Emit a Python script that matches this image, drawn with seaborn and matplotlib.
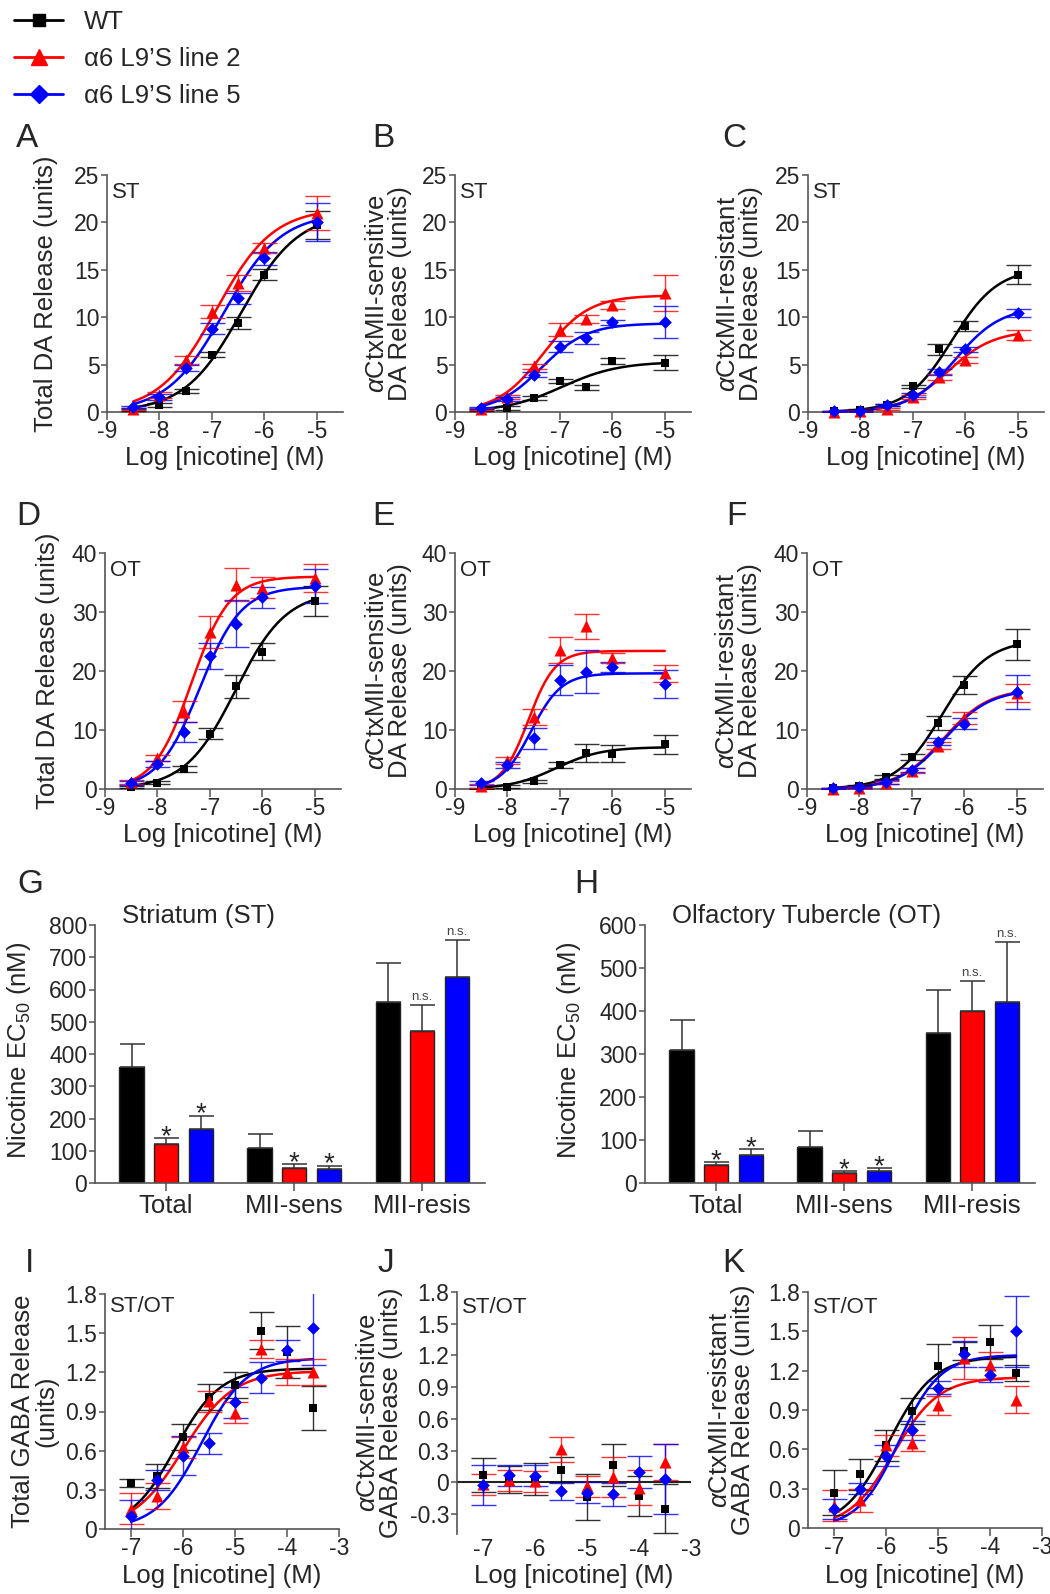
import numpy as np
import pandas as pd
import matplotlib
matplotlib.use('Agg')
import matplotlib.pyplot as plt
import seaborn as sns
from matplotlib.lines import Line2D

# ---- data ----
GROUPS = ['WT', 'α6 L9’S line 2', 'α6 L9’S line 5']
COLORS = ['black', '#ff0000', '#0000ff']
MARKERS = ['s', '^', 'D']
SIZES = [32, 75, 42]

# DA release, log [nicotine] (M)
da_x = [-8.5, -8, -7.5, -7, -6.5, -6, -5]

# A  ST total
a_mean = [[0.2, 0.7, 2.2, 6.05, 9.4, 14.5, 19.7],
          [0.3, 1.8, 5.5, 10.6, 13.6, 17.3, 21.0],
          [0.5, 1.6, 4.65, 8.8, 12.0, 16.2, 20.0]]
a_err = [[0.1, 0.2, 0.2, 0.3, 0.6, 0.6, 1.5],
         [0.1, 0.3, 0.4, 0.7, 0.8, 0.5, 1.8],
         [0.1, 0.3, 0.3, 0.6, 0.6, 0.7, 2.0]]
a_top = [21.0, 21.5, 21.0]
a_logec = [-6.44, -6.92, -6.77]
a_hill = [0.8, 0.8, 0.8]

# B  ST aCtxMII-sensitive
b_mean = [[0.2, 0.4, 1.5, 3.3, 2.6, 5.35, 5.2],
          [0.3, 1.6, 4.8, 8.7, 9.8, 11.3, 12.6],
          [0.4, 1.4, 3.95, 6.9, 7.8, 9.45, 9.5]]
b_err = [[0.1, 0.2, 0.2, 0.2, 0.3, 0.3, 0.8],
         [0.1, 0.2, 0.3, 0.7, 0.4, 0.4, 1.9],
         [0.1, 0.2, 0.3, 0.6, 0.6, 0.3, 1.7]]
b_top = [5.3, 12.3, 9.35]
b_logec = [-6.96, -7.32, -7.35]
b_hill = [0.8, 1.0, 1.0]

# C  ST aCtxMII-resistant
c_mean = [[0.1, 0.2, 0.7, 2.7, 6.6, 9.05, 14.5],
          [0.05, 0.1, 0.35, 1.6, 3.7, 5.5, 8.1],
          [0.1, 0.15, 0.7, 1.8, 4.25, 6.6, 10.45]]
c_err = [[0.05, 0.1, 0.1, 0.2, 0.6, 0.5, 1.0],
         [0.05, 0.1, 0.1, 0.2, 0.3, 0.3, 0.5],
         [0.05, 0.1, 0.1, 0.2, 0.3, 0.3, 0.4]]
c_top = [15.2, 8.6, 11.1]
c_logec = [-6.25, -6.33, -6.19]
c_hill = [1.0, 1.0, 1.0]

# D  OT total
d_mean = [[0.3, 1.1, 3.4, 9.4, 17.4, 23.3, 31.9],
          [1.2, 5.2, 13.1, 26.6, 34.6, 34.1, 35.8],
          [1.0, 4.2, 9.6, 22.5, 28.0, 32.5, 34.4]]
d_err = [[0.2, 0.3, 0.5, 1.0, 2.0, 1.5, 2.5],
         [0.3, 0.5, 1.8, 2.7, 2.8, 1.8, 2.4],
         [0.3, 0.5, 1.7, 2.2, 4.0, 1.8, 2.9]]
d_top = [33.5, 36.0, 34.3]
d_logec = [-6.51, -7.35, -7.19]
d_hill = [0.9, 1.2, 1.1]

# E  OT aCtxMII-sensitive
e_mean = [[0.1, 0.4, 1.3, 4.1, 6.1, 6.0, 7.55],
          [0.5, 4.8, 12.2, 23.5, 27.6, 22.2, 19.6],
          [1.0, 4.1, 8.6, 18.5, 19.9, 20.7, 17.8]]
e_err = [[0.1, 0.2, 0.3, 0.5, 1.6, 1.5, 1.6],
         [0.3, 0.6, 1.4, 2.2, 2.1, 0.8, 1.4],
         [0.3, 0.5, 1.8, 2.5, 3.6, 0.8, 2.3]]
e_top = [7.1, 23.4, 19.6]
e_logec = [-7.07, -7.6, -7.55]
e_hill = [1.0, 1.7, 1.5]

# F  OT aCtxMII-resistant
f_mean = [[0.1, 0.5, 2.0, 5.45, 11.2, 17.6, 24.5],
          [0.05, 0.2, 1.1, 3.1, 7.3, 12.1, 16.3],
          [0.1, 0.3, 1.2, 3.2, 8.0, 11.1, 16.5]]
f_err = [[0.1, 0.2, 0.3, 0.5, 1.2, 1.5, 2.6],
         [0.1, 0.2, 0.3, 0.4, 0.6, 1.0, 1.5],
         [0.1, 0.2, 0.3, 0.4, 0.6, 1.0, 2.9]]
f_top = [25.3, 17.0, 16.9]
f_logec = [-6.42, -6.4, -6.38]
f_hill = [1.0, 1.0, 1.0]

# G/H  nicotine EC50 (nM)
ec50_cats = ['Total', 'MII-sens', 'MII-resis']
st_ec50 = [[360, 110, 560], [120, 47, 470], [168, 44, 640]]
st_sem = [[70, 42, 122], [20, 12, 82], [41, 10, 113]]
ot_ec50 = [[310, 83, 350], [43, 24, 400], [64, 28, 420]]
ot_sem = [[70, 37, 100], [6, 4, 70], [14, 7, 140]]
ec50_marks = [['*', '*', 'n.s.'], ['*', '*', 'n.s.']]

# GABA release
gaba_x = [-7, -6.5, -6, -5.5, -5, -4.5, -4, -3.5]

# I  total GABA
i_mean = [[0.35, 0.405, 0.705, 1.01, 1.10, 1.52, 1.355, 0.925],
          [0.155, 0.25, 0.625, 0.98, 0.89, 1.38, 1.205, 1.2],
          [0.10, 0.375, 0.56, 0.655, 0.97, 1.16, 1.37, 1.54]]
i_err = [[0.03, 0.09, 0.1, 0.1, 0.1, 0.14, 0.2, 0.17],
         [0.12, 0.1, 0.08, 0.08, 0.08, 0.07, 0.1, 0.1],
         [0.12, 0.08, 0.15, 0.08, 0.12, 0.12, 0.08, 0.28]]
i_top = [1.23, 1.21, 1.31]
i_logec = [-6.15, -6.0, -5.65]
i_hill = [1.0, 0.9, 1.0]

# J  aCtxMII-sensitive GABA (no fit)
j_mean = [[0.07, 0.025, 0.03, 0.12, -0.14, 0.16, -0.13, -0.25],
          [-0.02, 0.02, 0.01, 0.31, -0.04, 0.05, -0.05, 0.19],
          [-0.03, 0.065, 0.06, -0.085, -0.1, -0.115, 0.1, 0.03]]
j_err = [[0.16, 0.13, 0.15, 0.12, 0.22, 0.2, 0.19, 0.23],
         [0.1, 0.1, 0.1, 0.12, 0.1, 0.19, 0.17, 0.17],
         [0.19, 0.1, 0.1, 0.08, 0.1, 0.11, 0.15, 0.33]]

# K  aCtxMII-resistant GABA
k_mean = [[0.27, 0.41, 0.63, 0.89, 1.235, 1.35, 1.42, 1.18],
          [0.17, 0.21, 0.63, 0.65, 0.935, 1.3, 1.24, 0.98],
          [0.145, 0.3, 0.55, 0.745, 1.07, 1.33, 1.17, 1.5]]
k_err = [[0.17, 0.12, 0.12, 0.1, 0.17, 0.07, 0.13, 0.06],
         [0.12, 0.09, 0.08, 0.06, 0.07, 0.16, 0.1, 0.1],
         [0.08, 0.04, 0.08, 0.07, 0.05, 0.1, 0.06, 0.27]]
k_top = [1.31, 1.15, 1.32]
k_logec = [-5.95, -5.85, -5.75]
k_hill = [1.0, 1.0, 1.1]

# ---- style ----
sns.set_theme(style='ticks')
plt.rcParams['font.family'] = ['Liberation Sans', 'DejaVu Sans']
plt.rcParams['mathtext.fontset'] = 'custom'
plt.rcParams['mathtext.rm'] = 'Liberation Sans'
plt.rcParams['mathtext.it'] = 'Liberation Sans:italic'
plt.rcParams['axes.unicode_minus'] = False
SPINE = '#555555'
TICK = 16.5
LABEL = 18.5
LETTER = 24

W, H = 1050, 1594
fig = plt.figure(figsize=(W / 100, H / 100), dpi=100)


def add_ax(left, top, right, bottom):
    return fig.add_axes([left / W, 1 - bottom / H, (right - left) / W, (bottom - top) / H])


def hill(x, top, logec, n):
    return top / (1 + 10 ** ((logec - x) * n))


def style_axes(ax, xlim, xticks, ylim, yticks, yfmt=str):
    sns.despine(ax=ax)
    for s in ['left', 'bottom']:
        ax.spines[s].set_color(SPINE)
        ax.spines[s].set_linewidth(1.2)
    ax.set_xlim(xlim)
    ax.set_ylim(ylim)
    ax.set_xticks(xticks)
    ax.set_xticklabels([str(t) for t in xticks])
    ax.set_yticks(yticks)
    ax.set_yticklabels([yfmt(t) for t in yticks])
    ax.tick_params(axis='x', length=6, width=1.1, color=SPINE, pad=0, labelsize=TICK)
    ax.tick_params(axis='y', length=4, width=1.1, color=SPINE, pad=1.5, labelsize=TICK)


def set_labels(ax, xlabel, ylabel, xlab_top, ylab_right):
    ax.set_xlabel(xlabel, fontsize=LABEL)
    ax.set_ylabel(ylabel, fontsize=LABEL, linespacing=0.95)
    pos = ax.get_position()
    ax.xaxis.set_label_coords(pos.x0 + pos.width / 2, 1 - xlab_top / H, transform=fig.transFigure)
    ax.yaxis.set_label_coords(ylab_right / W, pos.y0 + pos.height / 2, transform=fig.transFigure)


def dose_panel(ax, x, means, errs, fit=None):
    if fit is not None:
        tops, logecs, hills = fit
        for i in range(3):
            fx = np.linspace(x[0], x[-1], 200)
            sns.lineplot(x=fx, y=hill(fx, tops[i], logecs[i], hills[i]), color=COLORS[i],
                         lw=1.8, ax=ax, zorder=2)
    for i in range(3):
        ax.errorbar(x, means[i], yerr=errs[i], fmt='none', ecolor=COLORS[i], elinewidth=1.0,
                    capsize=9, capthick=1.0, alpha=0.8, zorder=3)
        sns.scatterplot(x=x, y=means[i], color=COLORS[i], marker=MARKERS[i], s=SIZES[i],
                        linewidth=0, ax=ax, clip_on=False, zorder=4)


def note(ax, text, dy):
    ax.annotate(text, xy=(0, 1), xycoords='axes fraction', xytext=(5, -dy),
                textcoords='offset pixels', fontsize=16, va='baseline', ha='left')


def letter(x, y, s):
    fig.text(x / W, 1 - y / H, s, fontsize=LETTER, va='baseline', ha='left')


# ---- rows 1 and 2: DA release ----
da_panels = [
    ('A', (107, 175, 343, 412), a_mean, a_err, (a_top, a_logec, a_hill), 25, 5, 'ST',
     'Total DA Release (units)', 58, 446, (16, 147)),
    ('B', (455, 175, 691, 412), b_mean, b_err, (b_top, b_logec, b_hill), 25, 5, 'ST',
     '$\\alpha$CtxMII-sensitive\nDA Release (units)', 412, 446, (372, 147)),
    ('C', (808, 175, 1044, 412), c_mean, c_err, (c_top, c_logec, c_hill), 25, 5, 'ST',
     '$\\alpha$CtxMII-resistant\nDA Release (units)', 763, 446, (722, 147)),
    ('D', (105, 553, 341, 789), d_mean, d_err, (d_top, d_logec, d_hill), 40, 10, 'OT',
     'Total DA Release (units)', 60, 823, (16, 525)),
    ('E', (455, 553, 691, 789), e_mean, e_err, (e_top, e_logec, e_hill), 40, 10, 'OT',
     '$\\alpha$CtxMII-sensitive\nDA Release (units)', 412, 823, (372, 525)),
    ('F', (807, 553, 1043, 789), f_mean, f_err, (f_top, f_logec, f_hill), 40, 10, 'OT',
     '$\\alpha$CtxMII-resistant\nDA Release (units)', 762, 823, (726, 525)),
]
for name, box, means, errs, fit, ymax, ystep, region, ylab, ylab_r, xlab_t, lpos in da_panels:
    ax = add_ax(*box)
    dose_panel(ax, da_x, means, errs, fit)
    style_axes(ax, (-9, -4.5), [-9, -8, -7, -6, -5], (0, ymax), list(range(0, ymax + 1, ystep)))
    set_labels(ax, 'Log [nicotine] (M)', ylab, xlab_t, ylab_r)
    note(ax, region, 23)
    letter(lpos[0], lpos[1], name)


# ---- row 3: EC50 bars ----
def ec50_panel(ax, vals, sems, ymax, title):
    df = pd.DataFrame({'cat': np.tile(ec50_cats, 3),
                       'group': np.repeat(GROUPS, 3),
                       'val': np.concatenate(vals)})
    sns.barplot(data=df, x='cat', y='val', hue='group', hue_order=GROUPS, palette=COLORS,
                saturation=1, width=0.81, gap=0.3, edgecolor='#222222', linewidth=1,
                errorbar=None, legend=False, ax=ax)
    conts = sorted(ax.containers, key=lambda c: c.patches[0].get_x())
    for i, cont in enumerate(conts):
        xs = [p.get_x() + p.get_width() / 2 for p in cont.patches]
        ax.errorbar(xs, vals[i], yerr=[np.zeros(3), sems[i]], fmt='none', ecolor='#333333',
                    elinewidth=1.1, capsize=9, capthick=1.1, zorder=1)
        if i > 0:
            for j in range(3):
                m = ec50_marks[i - 1][j]
                top = vals[i][j] + sems[i][j]
                if m == '*':
                    ax.annotate(m, xy=(xs[j], top), xytext=(0, -6), textcoords='offset pixels',
                                ha='center', va='baseline', fontsize=20)
                else:
                    ax.annotate(m, xy=(xs[j], top), xytext=(0, 5), textcoords='offset pixels',
                                ha='center', va='baseline', fontsize=9.5, color='#444444')
    sns.despine(ax=ax)
    for s in ['left', 'bottom']:
        ax.spines[s].set_color(SPINE)
        ax.spines[s].set_linewidth(1.2)
    ax.set_xlim(-0.555, 2.49)
    ax.set_ylim(0, ymax)
    ax.set_yticks(list(range(0, ymax + 1, 100)))
    ax.tick_params(axis='x', length=6, width=1.1, color=SPINE, pad=2, labelsize=18.5)
    ax.tick_params(axis='y', length=4, width=1.1, color=SPINE, pad=1.5, labelsize=TICK)
    ax.set_xlabel('')
    ax.set_ylabel('Nicotine EC$_{50}$ (nM)', fontsize=LABEL)
    ax.text(0.07, 1.008, title, transform=ax.transAxes, fontsize=18.5, ha='left', va='baseline')


axG = add_ax(95, 925, 485, 1183)
ec50_panel(axG, st_ec50, st_sem, 800, 'Striatum (ST)')
axG.yaxis.set_label_coords(33 / W, 1 - 1050 / H, transform=fig.transFigure)
letter(17, 893, 'G')

axH = add_ax(645, 925, 1035, 1183)
ec50_panel(axH, ot_ec50, ot_sem, 600, 'Olfactory Tubercle (OT)')
axH.yaxis.set_label_coords(583 / W, 1 - 1050 / H, transform=fig.transFigure)
letter(574, 893, 'H')


# ---- row 4: GABA release ----
def gfmt(v):
    return '0' if abs(v) < 1e-9 else f'{v:.1f}'


gaba_ticks = [0, 0.3, 0.6, 0.9, 1.2, 1.5, 1.8]

axI = add_ax(105, 1294, 339, 1529)
dose_panel(axI, gaba_x, i_mean, i_err, (i_top, i_logec, i_hill))
style_axes(axI, (-7.5, -3), [-7, -6, -5, -4, -3], (0, 1.8), gaba_ticks, gfmt)
set_labels(axI, 'Log [nicotine] (M)', 'Total GABA Release\n(units)', 1564, 58)
note(axI, 'ST/OT', 18)
letter(25, 1272, 'I')

axJ = add_ax(457, 1292, 691, 1534)
axJ.axhline(0, color='#222222', lw=1.5, zorder=1)
dose_panel(axJ, gaba_x, j_mean, j_err)
style_axes(axJ, (-7.5, -3), [-7, -6, -5, -4, -3], (-0.49, 1.8), [-0.3] + gaba_ticks, gfmt)
axJ.spines['bottom'].set_visible(False)
axJ.tick_params(axis='x', length=0, pad=3)
set_labels(axJ, 'Log [nicotine] (M)', '$\\alpha$CtxMII-sensitive\nGABA Release (units)', 1564, 403)
note(axJ, 'ST/OT', 21)
letter(377, 1272, 'J')

axK = add_ax(808, 1292, 1042, 1528)
dose_panel(axK, gaba_x, k_mean, k_err, (k_top, k_logec, k_hill))
style_axes(axK, (-7.5, -3), [-7, -6, -5, -4, -3], (0, 1.8), gaba_ticks, gfmt)
set_labels(axK, 'Log [nicotine] (M)', '$\\alpha$CtxMII-resistant\nGABA Release (units)', 1564, 755)
note(axK, 'ST/OT', 21)
letter(722, 1272, 'K')

# ---- legend ----
handles = [Line2D([], [], color=COLORS[i], marker=MARKERS[i], markersize=[9, 11, 9][i], lw=2)
           for i in range(3)]
fig.legend(handles, GROUPS, loc='upper left', bbox_to_anchor=(8 / W, 1 - 4 / H), frameon=False,
           fontsize=18.5, handlelength=1.9, handletextpad=0.8, labelspacing=0.5,
           borderaxespad=0.1, borderpad=0.15)

fig.savefig('out.png', dpi=100, facecolor='white')
